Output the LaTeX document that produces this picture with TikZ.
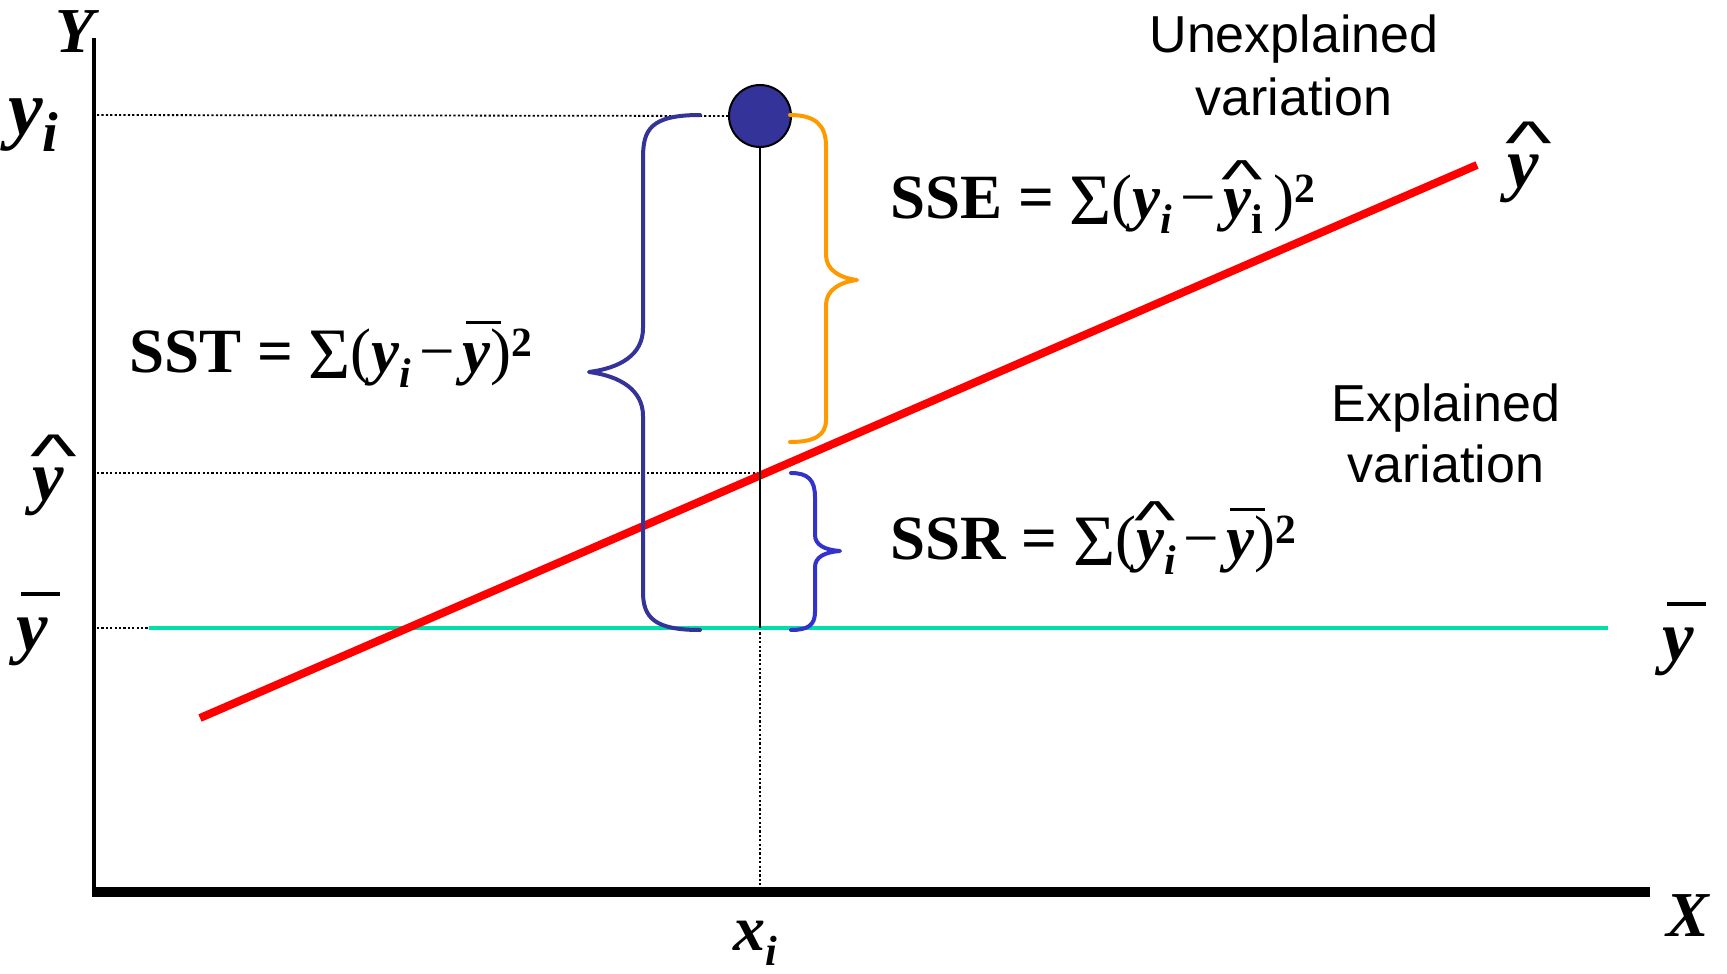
\documentclass[tikz,border=0pt]{standalone}
\usepackage{fontspec}
\setmainfont{Liberation Serif}
\setsansfont{Liberation Sans}
\usepackage{graphicx}
\usetikzlibrary{shapes.geometric}
\definecolor{navy}{RGB}{51,51,153}
\definecolor{ssrblue}{RGB}{51,51,204}
\definecolor{orng}{RGB}{255,153,0}
\definecolor{turq}{RGB}{0,222,170}
\definecolor{rline}{RGB}{255,0,0}
\newcommand\BY{\textbf{\textit{y}}}
\newcommand\ISUB{\raisebox{-0.24em}{\scalebox{0.66}{\textbf{\textit{i}}}}}
\newcommand\BIGSUB{\raisebox{-0.22em}{\scalebox{0.72}{\textbf{\textit{i}}}}}
\newcommand\RSUB{\raisebox{-0.24em}{\scalebox{0.66}{\textbf{\upshape i}}}}
\newcommand\SQ{\raisebox{0.24em}{\scalebox{0.66}{\textbf{\upshape 2}}}}
\newcommand\SIG{\raisebox{-0.11em}{\scalebox{1.15}{\mdseries\upshape Σ}}}
\newcommand\LP{{\mdseries(}}
\newcommand\RP{{\mdseries)}}
\newcommand\MINUS{\hspace{0.12em}{\mdseries −}\hspace{0.12em}}
\newcommand\YBAR{\leavevmode\rlap{\hspace{0.06em}\raisebox{0.76em}{\rule{0.55em}{0.05em}}}\BY}
\newcommand\YHAT{\leavevmode\rlap{\hspace{-0.03em}\raisebox{0.33em}{\scalebox{1.4}[0.85]{\sffamily\mdseries\upshape\textasciicircum}}}\BY}
\tikzset{
  formula/.style={anchor=base west, inner sep=0pt, font=\fontsize{63}{75}\selectfont\bfseries},
  axlabel/.style={anchor=base, inner sep=0pt, font=\fontsize{64}{76}\selectfont\bfseries\itshape},
  ylabel/.style={anchor=base, inner sep=0pt, font=\fontsize{71}{84}\selectfont\bfseries\itshape},
  varlabel/.style={anchor=base, inner sep=0pt, font=\fontsize{52}{62}\selectfont\sffamily},
  dots/.style={line width=1.8pt, dash pattern=on 2.2pt off 2.2pt},
  bracepath/.style={line width=4pt, line cap=round, line join=round},
}
\begin{document}
\begin{tikzpicture}[x=1pt,y=-1pt]
\useasboundingbox (0,0) rectangle (1727,974);
% key coordinates
\coordinate (Ytop) at (94,38);
\coordinate (Ybot) at (94,888);
\coordinate (Xleft) at (92,892);
\coordinate (Xright) at (1650,892);
\coordinate (yiL) at (97,115);
\coordinate (yhL) at (97,473);
\coordinate (yhX) at (760,473);
\coordinate (ybL) at (97,628);
\coordinate (cyS) at (149,628);
\coordinate (cyE) at (1608,628);
\coordinate (xiB) at (760,628);
\coordinate (xiA) at (760,888);
\coordinate (rS) at (200,718);
\coordinate (rE) at (1477,165);
% data point
\node[circle, draw=black, line width=2pt, fill=navy, minimum size=62pt, inner sep=0pt] (pt) at (760,116) {};
% dotted guide lines
\draw[dots] (yiL) -- (pt.west);
\draw[dots] (yhL) -- (yhX);
\draw[dots] (ybL) -- (cyS);
\draw[dots] (xiB) -- (xiA);
% mean line
\draw[turq, line width=4.5pt] (cyS) -- (cyE);
% regression line
\draw[rline, line width=8pt] (rS) -- (rE);
% vertical from point
\draw[line width=2pt] (pt.south) -- (xiB);
% axes
\draw[line width=4pt] (Ytop) -- (Ybot);
\draw[line width=10.5pt] (Xleft) -- (Xright);
% braces
\draw[bracepath, navy] (700,115) .. controls (650,115) and (643,130) .. (643,158) -- (643,328)
  .. controls (643,355) and (620,368) .. (589,372) .. controls (620,376) and (643,390) .. (643,416)
  -- (643,592) .. controls (643,618) and (655,630) .. (700,630);
\draw[bracepath, orng] (790,115) .. controls (815,115) and (826,125) .. (826,146) -- (826,255)
  .. controls (826,270) and (840,278) .. (857,280) .. controls (840,282) and (826,290) .. (826,305)
  -- (826,420) .. controls (826,435) and (815,442) .. (790,442);
\draw[bracepath, ssrblue] (791,473) .. controls (808,473) and (815,480) .. (815,497) -- (815,535)
  .. controls (815,545) and (825,550) .. (840,551) .. controls (825,552) and (815,557) .. (815,567)
  -- (815,612) .. controls (815,625) and (808,630) .. (791,630);
% axis labels
\node[axlabel] (Ylab) at (75,53) {Y};
\node[axlabel] (Xlab) at (1688,936) {X};
\node[axlabel] (xilab) at (755,950) {x\ISUB};
\node[ylabel, anchor=base west, font=\fontsize{78}{90}\selectfont\bfseries\itshape] (yilab) at (8,134) {y\BIGSUB};
\node[ylabel] (yhatL) at (48,500) {\YHAT};
\node[ylabel] (ybarL) at (32,650) {\YBAR};
\node[ylabel] (yhatR) at (1523,187) {\YHAT};
\node[ylabel] (ybarR) at (1678,660) {\YBAR};
% formulas
\node[formula] (sst) at (129,372) {SST = \SIG\LP\BY\ISUB\MINUS\YBAR\RP\SQ};
\node[formula] (sse) at (890,218) {SSE = \SIG\LP\BY\ISUB\MINUS\YHAT\RSUB\,\RP\SQ};
\node[formula] (ssr) at (890,559) {SSR = \SIG\LP\YHAT\ISUB\MINUS\YBAR\RP\SQ};
% variation labels
\node[varlabel] (unex1) at (1294,53) {Unexplained};
\node[varlabel] (unex2) at (1294,115) {variation};
\node[varlabel] (ex1) at (1446,421) {Explained};
\node[varlabel] (ex2) at (1446,482) {variation};
\end{tikzpicture}
\end{document}
